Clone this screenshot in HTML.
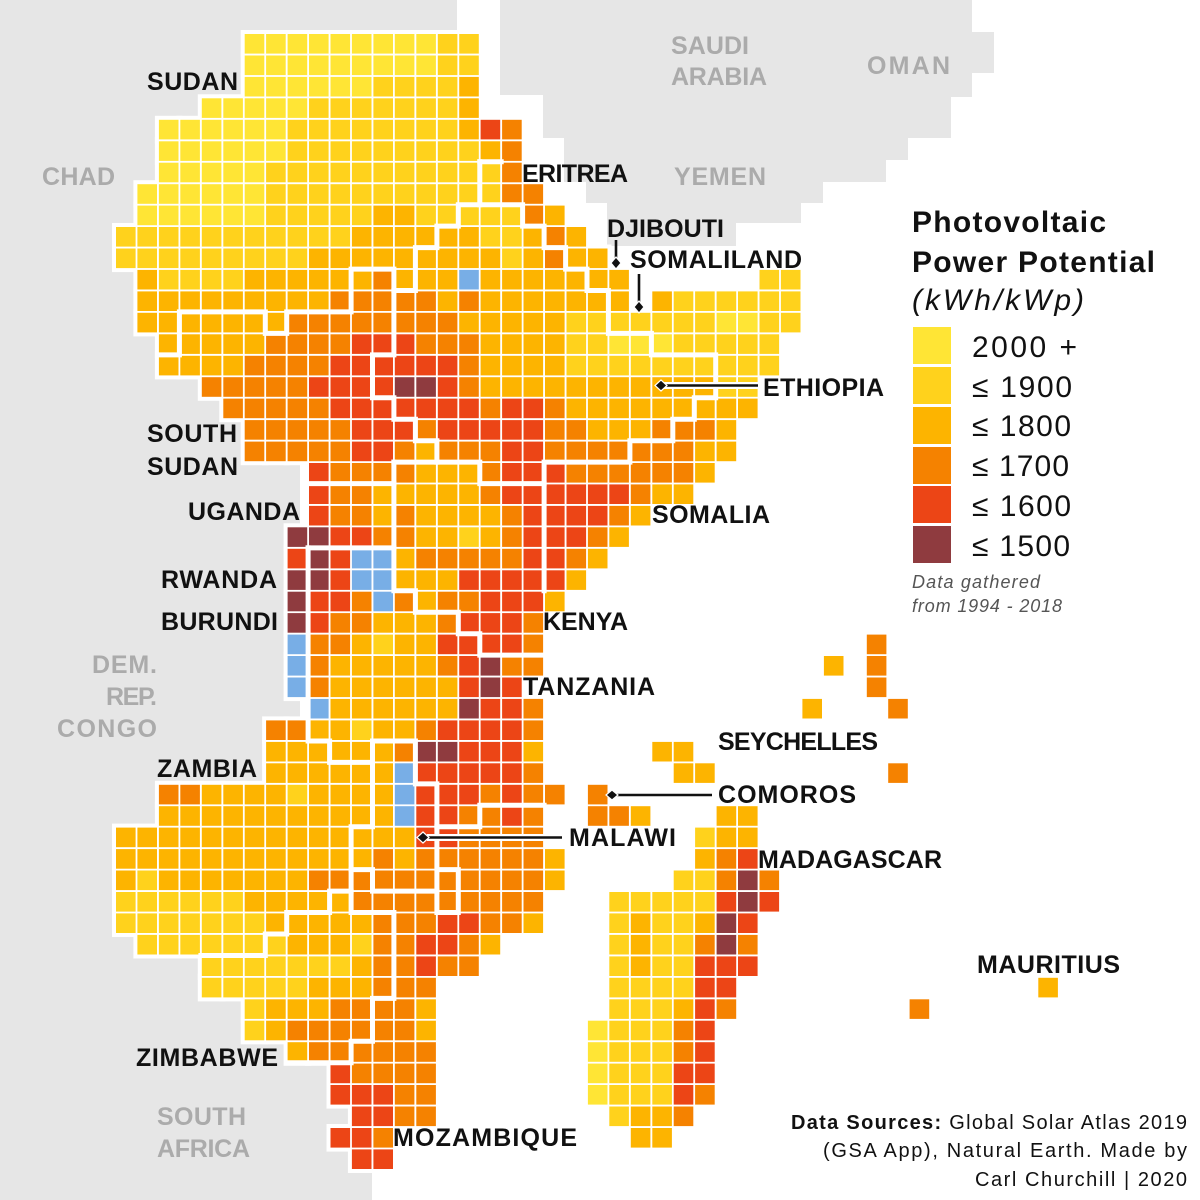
<!DOCTYPE html>
<html><head><meta charset="utf-8">
<style>
html,body{margin:0;padding:0;background:#fff;}
svg{display:block;}
text{font-family:"Liberation Sans",Arial,sans-serif;}
.l{font-weight:bold;font-size:25px;fill:#111;}
.g{font-weight:bold;font-size:25px;fill:#ABABAB;}
.lg{font-size:30px;fill:#111;}
</style></head><body>
<svg id="s" width="1200" height="1200" viewBox="0 0 1200 1200" xmlns="http://www.w3.org/2000/svg">
<rect width="1200" height="1200" fill="#fff"/>
<polygon fill="#E6E6E6" points="0,0 457,0 457,30 300,30 300,1062 372,1062 372,1200 0,1200"/>
<polygon fill="#E6E6E6" points="500,0 972,0 972,32 994,32 994,73 972,73 972,97 951,97 951,138 908,138 908,160 886,160 886,182 823,182 823,203 801,203 801,223 736,223 736,246 607,246 607,203 586,203 586,182 564,182 564,138 543,138 543,95 500,95"/>
<g id="halo" fill="#fff"></g>
<g id="cells"></g>
<g id="borders" fill="none" stroke="#fff" stroke-width="5" stroke-linecap="square" stroke-linejoin="miter"></g>

<!-- arrows -->
<g stroke="#fff" stroke-width="7" fill="none">
<line x1="664" y1="385.5" x2="758" y2="385.5"/>
<line x1="427" y1="837.5" x2="562" y2="837.5"/>
</g>
<g stroke="#111" stroke-width="2.6" fill="none">
<line x1="616" y1="240" x2="616" y2="259"/>
<line x1="639" y1="274" x2="639" y2="303"/>
<line x1="664" y1="385.5" x2="758" y2="385.5"/>
<line x1="616" y1="795" x2="712" y2="795"/>
<line x1="427" y1="837.5" x2="562" y2="837.5"/>
</g>
<g fill="#111" stroke="#fff" stroke-width="1.2">
<polygon points="616,257 621,263 616,269 611,263"/>
<polygon points="639,301 644,307 639,313 634,307"/>
<polygon points="655,385.5 661,380 667,385.5 661,391"/>
<polygon points="606,795 612,790 618,795 612,800"/>
<polygon points="417,837.5 423,832 429,837.5 423,843"/>
</g>

<!-- country labels -->
<text class="l" x="147" y="90" textLength="91">SUDAN</text>
<text class="g" x="42" y="185" textLength="73">CHAD</text>
<text class="g" x="671" y="54" textLength="78">SAUDI</text>
<text class="g" x="671" y="85" textLength="96">ARABIA</text>
<text class="g" x="867" y="74" textLength="83">OMAN</text>
<text class="g" x="674" y="185" textLength="92">YEMEN</text>
<text class="l" x="522" y="182" textLength="106">ERITREA</text>
<text class="l" x="607" y="237" textLength="117">DJIBOUTI</text>
<text class="l" x="630" y="268" textLength="172">SOMALILAND</text>
<text class="l" x="763" y="396" textLength="121">ETHIOPIA</text>
<text class="l" x="147" y="442" textLength="90">SOUTH</text>
<text class="l" x="147" y="475" textLength="91">SUDAN</text>
<text class="l" x="188" y="520" textLength="112">UGANDA</text>
<text class="l" x="652" y="523" textLength="118">SOMALIA</text>
<text class="l" x="161" y="588" textLength="116">RWANDA</text>
<text class="l" x="161" y="630" textLength="117">BURUNDI</text>
<text class="l" x="543" y="630" textLength="85">KENYA</text>
<text class="g" x="92" y="673" textLength="65">DEM.</text>
<text class="g" x="106" y="705" textLength="51">REP.</text>
<text class="g" x="57" y="737" textLength="100">CONGO</text>
<text class="l" x="523" y="695" textLength="132">TANZANIA</text>
<text class="l" x="718" y="750" textLength="160">SEYCHELLES</text>
<text class="l" x="157" y="777" textLength="100">ZAMBIA</text>
<text class="l" x="718" y="803" textLength="138">COMOROS</text>
<text class="l" x="569" y="846" textLength="107">MALAWI</text>
<text class="l" x="758" y="868" textLength="184">MADAGASCAR</text>
<text class="l" x="977" y="973" textLength="143">MAURITIUS</text>
<text class="l" x="136" y="1066" textLength="142">ZIMBABWE</text>
<text class="g" x="157" y="1125" textLength="89">SOUTH</text>
<text class="g" x="157" y="1157" textLength="93">AFRICA</text>
<text class="l" x="393" y="1146" textLength="184">MOZAMBIQUE</text>

<!-- legend -->
<text x="912" y="232" font-size="30" font-weight="bold" fill="#111" textLength="194">Photovoltaic</text>
<text x="912" y="272" font-size="30" font-weight="bold" fill="#111" textLength="243">Power Potential</text>
<text x="912" y="310" font-size="30" font-style="italic" fill="#111" textLength="172">(kWh/kWp)</text>
<rect x="913" y="327" width="38" height="37" fill="#FFE535"/>
<rect x="913" y="367" width="38" height="37" fill="#FFD21C"/>
<rect x="913" y="407" width="38" height="37" fill="#FDB400"/>
<rect x="913" y="447" width="38" height="37" fill="#F58200"/>
<rect x="913" y="486" width="38" height="37" fill="#EC4516"/>
<rect x="913" y="526" width="38" height="37" fill="#8F3B3F"/>
<text class="lg" x="972" y="357" textLength="105">2000 +</text>
<text class="lg" x="972" y="397" textLength="100">≤ 1900</text>
<text class="lg" x="972" y="436" textLength="99">≤ 1800</text>
<text class="lg" x="972" y="476" textLength="97">≤ 1700</text>
<text class="lg" x="972" y="516" textLength="99">≤ 1600</text>
<text class="lg" x="972" y="556" textLength="98">≤ 1500</text>
<text x="912" y="588" font-size="18" font-style="italic" fill="#555" textLength="128">Data gathered</text>
<text x="912" y="612" font-size="18" font-style="italic" fill="#555" textLength="150">from 1994 - 2018</text>

<!-- sources -->
<text x="1187" y="1129" font-size="20" fill="#111" text-anchor="end" textLength="396"><tspan font-weight="bold">Data Sources:</tspan> Global Solar Atlas 2019</text>
<text x="1187" y="1157" font-size="20" fill="#111" text-anchor="end" textLength="364">(GSA App), Natural Earth. Made by</text>
<text x="1187" y="1186" font-size="20" fill="#111" text-anchor="end" textLength="212">Carl Churchill | 2020</text>
</svg>
<script>
(function(){
var P=21.45,X0=116,Y0=34,S=19.6;
var C={Y:'#FFE535',G:'#FFD21C',O:'#FDB400',A:'#F58200',R:'#EC4516',M:'#8F3B3F',B:'#78AEE6'};
var rows=[
[0,6,"YYYYYYYYYGG"],
[1,6,"YYYYYYYYYGG"],
[2,6,"YYYYYYGGGGO"],
[3,4,"YYYYYGGGGGGGO"],
[4,2,"YYYYYYGGGGGGGGORA"],
[5,2,"YYYYYYGGGGGGGGGOA"],
[6,2,"YYYYYGGGGGGGGGGGA"],
[7,1,"YYYYYYGGGGGGGGGGGAA"],
[8,1,"YYYYYYGGGGGOOGGGGGAO"],
[9,0,"GGGGGGGGGGGOOOOOOGGOAO"],
[10,0,"GGGGGGGGGOOOOOOOOOGOAOO"],
[11,1,"OGGGGOOOOOOAOOOBOOOOOOO......GG"],
[12,1,"OOOOOOOOOAAAAAOAOOOOOOO.OGGGGGG"],
[13,1,"OOOOOOOAAAAAAAAOOOOOGGGGGGGYYGG"],
[14,2,"OOOOOAAAARRRAAAOOOOGGYYYGGGGG"],
[15,2,"OOOOAAAARRRRRRAOOOOGGGGGGGGGG"],
[16,4,"AAAAARRRRMMRAOOOOOOOOOOOGG"],
[17,5,"AAAAARRRRRRRARRAOOOOOOOOO"],
[18,6,"AAAAARRRARRRRRAAOOOAAAO"],
[19,6,"AAAAARRAOAAARRAAAAAAAOO"],
[20,9,"RAAAAOOOARRRAAAAAAO"],
[21,9,"RAAOOOOOARRRRRRAOO"],
[22,9,"RAAOAOOOOARRRRAO"],
[23,8,"MMRRAAOOGOARRRAO"],
[24,8,"RMRBBOAAAAARRAO"],
[25,8,"MMRBBOOORRRRRO"],
[26,8,"MRRABAOAARRRO"],
[27,8,"MRAAOOOARRRA"],
[28,8,"BAAOGOORRRRA"],
[29,8,"BAOOOOOARMAA"],
[30,8,"BAOOOOOORMR"],
[31,9,"BOOOOOOMRRA"],
[32,7,"AAOOGOOARRRRA"],
[33,7,"OOOOOOAMMRRRO"],
[34,7,"OOOOOOBRRRRRA"],
[35,2,"AAOOOOGOOOOBRRRARAA.A"],
[36,2,"OOOOOOOOOOOBRRAARA..AAO...OO"],
[37,0,"OOOOOOOOOOOOOORRAAAA.......GOO"],
[38,0,"OOOOOOOOOOOOAOAAAAAAO......OAR"],
[39,0,"OGOOOOOOOAAAAAAAAAAAO.....GGAMA"],
[40,0,"GGGGGGOOOOOAAAAAAAAA...GGGGGRMR"],
[41,0,"GGGGGGGOOOOOAAARRAAO...GOGGOMR"],
[42,1,"GGGGGGGOOOGAARRAO.....GOGGAMA"],
[43,4,"GGGGGGGOAARAA......GOGGRRR"],
[44,4,"GGGGGOOOAAA........GGGGRR..............O"],
[45,6,"GOOOAAAAO........GGGORA........A"],
[46,6,"GOAAAAAAO.......YGGGAR"],
[47,8,"OAAAAAA.......YGGGAR"],
[48,10,"RAAAA.......YGGGRR"],
[49,10,"RRRAA.......YGGGRA"],
[50,11,"RRAA........GOOA"],
[51,10,"RRA...........OO"],
[52,11,"RR"]
];
var extra=[[28,35,'A'],[29,33,'O'],[29,35,'A'],[30,35,'A'],[31,32,'O'],[31,36,'A'],[33,25,'O'],[33,26,'O'],[34,26,'O'],[34,27,'O'],[34,36,'A']];
var halo='',cells='';
function add(r,c,ch){
  var x=X0+c*P,y=Y0+r*P;
  halo+='<rect x="'+(x-4).toFixed(1)+'" y="'+(y-4).toFixed(1)+'" width="'+(S+8)+'" height="'+(S+8)+'"/>';
  cells+='<rect x="'+x.toFixed(1)+'" y="'+y.toFixed(1)+'" width="'+S+'" height="'+S+'" fill="'+C[ch]+'"/>';
}
rows.forEach(function(a){var r=a[0],c0=a[1],s=a[2];for(var i=0;i<s.length;i++){var ch=s[i];if(ch!=='.')add(r,c0+i,ch);}});
extra.forEach(function(e){add(e[0],e[1],e[2]);});
document.getElementById('halo').innerHTML=halo;
document.getElementById('cells').innerHTML=cells;
var B=[
[[17,6],[17,8],[16,8],[16,9],[15,9],[15,10],[14,10],[14,12],[13,12],[13,11],[11,11],[11,13],[8,13],[8,14],[7,14],[7,13],[3,13],[3,15],[2,15]],
[[17,6],[18,6]],
[[13,12],[13,15],[12,15],[12,17],[13,17],[13,18],[14,18],[14,19],[15,19],[15,20],[17,20],[17,21],[20,21],[20,20],[24,20],[24,19],[26,19],[26,18],[27,18],[27,17],[28,17],[28,15],[25,15],[25,14],[23,14],[23,12],[22,12],[22,11],[21,11],[21,10],[20,10],[20,9],[19,9],[19,8],[17,8]],
[[13,20],[15,20]],
[[13,20],[13,26],[14,26],[14,27],[16,27],[16,28],[17,28],[17,29],[20,29]],
[[20,21],[20,26]],
[[9,21],[13,21]],
[[9,24],[13,24]],
[[9,24],[9,33],[10,33],[10,34],[12,34],[12,33],[14,33],[14,35],[15,35],[15,37],[17,37],[17,36],[20,36]],
[[12,33],[12,37],[11,37],[11,40],[10,40],[10,41],[8,41],[8,42],[7,42],[7,43],[4,43]],
[[11,40],[11,41],[13,41],[13,45],[12,45],[12,47],[11,47],[11,48],[8,48]],
[[11,39],[12,39],[12,40],[15,40]],
[[15,37],[15,41],[16,41],[16,39],[15,39]]
];
var bs='';
B.forEach(function(pl){
  var pts=pl.map(function(p){return (X0+p[0]*P-0.9).toFixed(1)+','+(Y0+p[1]*P-0.9).toFixed(1);}).join(' ');
  bs+='<polyline points="'+pts+'"/>';
});
document.getElementById('borders').innerHTML=bs;
})();
</script>
</body></html>
